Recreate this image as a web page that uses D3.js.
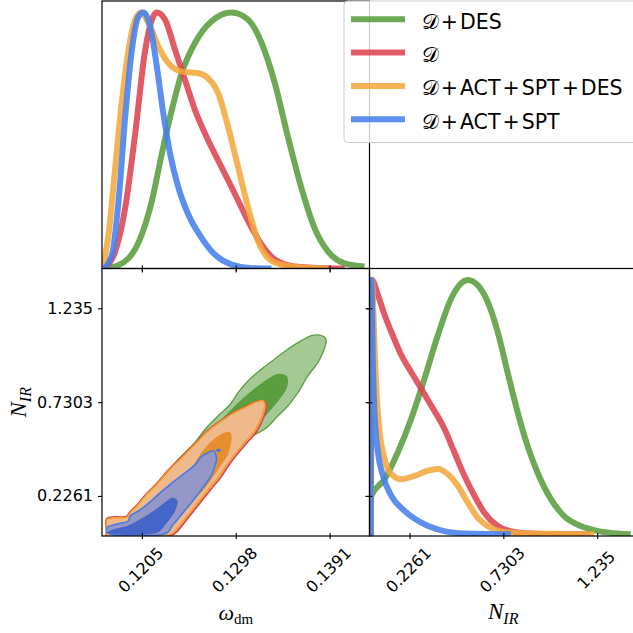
<!DOCTYPE html>
<html lang="en">
<head>
<meta charset="UTF-8">
<title>Triangle plot: omega_dm vs N_IR</title>
<script src="https://d3js.org/d3.v7.min.js"></script>
<style>
  body { margin: 0; background: #fff; }
  .tick-label { font: 16px "DejaVu Sans", sans-serif; fill: #000; }
  .legend-text { font: 20.5px "DejaVu Sans", sans-serif; fill: #000; }
  .math { font-family: "Liberation Serif", "DejaVu Serif", serif; font-style: italic; }
</style>
</head>
<body>
<svg id="chart" width="633" height="633"></svg>
<script>
// series, in legend / drawing order
const seriesNames = ["\u{1D49F}\u200A+\u200ADES", "\u{1D49F}", "\u{1D49F}\u200A+\u200AACT\u200A+\u200ASPT\u200A+\u200ADES", "\u{1D49F}\u200A+\u200AACT\u200A+\u200ASPT"];
const lineColors = ["#5a9e3e", "#dc4451", "#f3a93c", "#4680ee"];

// tick values and labels
const omegaTicks = [0.1205, 0.1298, 0.1391];
const omegaTickLabels = ["0.1205", "0.1298", "0.1391"];
const nirTicks = [0.2261, 0.7303, 1.235];
const nirTickLabels = ["0.2261", "0.7303", "1.235"];

// 1D marginals for omega_dm: [omega, normalised density]
const omegaDes = [[0.11717,0],[0.11918,0.04],[0.12050,0.134],[0.12149,0.264],[0.12248,0.449],[0.12346,0.618],[0.12445,0.764],[0.12577,0.882],[0.12741,0.966],[0.12939,1.0],[0.13103,0.972],[0.13235,0.882],[0.13367,0.724],[0.13498,0.512],[0.13630,0.315],[0.13762,0.157],[0.13893,0.067],[0.14058,0.02],[0.14256,0.008]];
const omegaD = [[0.11671,0],[0.11786,0.067],[0.11885,0.237],[0.11984,0.528],[0.12083,0.854],[0.12149,0.972],[0.12198,1.0],[0.12280,0.972],[0.12379,0.854],[0.12478,0.736],[0.12577,0.618],[0.12708,0.5],[0.12840,0.395],[0.12972,0.291],[0.13103,0.185],[0.13235,0.094],[0.13367,0.035],[0.13564,0.008],[0.13891,0.001],[0.14060,0]];
const omegaAll = [[0.11671,0.016],[0.11720,0.134],[0.11786,0.395],[0.11853,0.657],[0.11918,0.854],[0.11984,0.972],[0.12043,1.0],[0.12115,0.959],[0.12214,0.867],[0.12313,0.802],[0.12445,0.769],[0.12609,0.763],[0.12708,0.743],[0.12807,0.684],[0.12905,0.552],[0.13004,0.395],[0.13103,0.237],[0.13202,0.106],[0.13300,0.041],[0.13433,0.015],[0.13630,0.004],[0.13893,0]];
const omegaActSpt = [[0.11671,0],[0.11754,0.055],[0.11819,0.264],[0.11885,0.592],[0.11951,0.854],[0.12017,0.985],[0.12066,1.0],[0.12132,0.946],[0.12198,0.789],[0.12263,0.605],[0.12330,0.448],[0.12412,0.316],[0.12510,0.211],[0.12643,0.119],[0.12774,0.054],[0.12939,0.015],[0.13137,0.001],[0.13334,0]];

// 1D marginals for N_IR
const nirDes = [[0.0165,0],[0.0207,0.157],[0.092,0.222],[0.163,0.327],[0.235,0.458],[0.3065,0.615],[0.378,0.784],[0.450,0.928],[0.503,0.987],[0.539,1.0],[0.592,0.98],[0.646,0.915],[0.700,0.797],[0.753,0.64],[0.807,0.484],[0.860,0.353],[0.914,0.248],[0.986,0.144],[1.057,0.078],[1.147,0.039],[1.236,0.02],[1.343,0.01],[1.415,0.007]];
const nirD = [[0.018,0],[0.024,1.0],[0.056,0.941],[0.092,0.863],[0.128,0.797],[0.182,0.706],[0.235,0.64],[0.289,0.575],[0.342,0.51],[0.414,0.418],[0.467,0.327],[0.521,0.235],[0.575,0.157],[0.628,0.091],[0.700,0.039],[0.789,0.016],[0.914,0.009],[1.200,0.007]];
const nirAll = [[0.018,0],[0.024,1.0],[0.035,0.797],[0.048,0.562],[0.065,0.405],[0.092,0.301],[0.128,0.242],[0.182,0.222],[0.253,0.235],[0.324,0.255],[0.378,0.262],[0.431,0.242],[0.485,0.196],[0.539,0.131],[0.592,0.072],[0.646,0.039],[0.735,0.016],[0.879,0.009],[1.218,0.007]];
const nirActSpt = [[0.017,0],[0.0207,1.0],[0.029,0.667],[0.038,0.471],[0.056,0.327],[0.083,0.235],[0.128,0.157],[0.199,0.098],[0.289,0.052],[0.396,0.022],[0.521,0.01],[0.771,0.007]];

// 2D contours [omega, N_IR]
const desOuter = [[0.11717,0.0214],[0.11816,0.0537],[0.11934,0.1184],[0.12198,0.2891],[0.12396,0.4146],[0.12560,0.5046],[0.12692,0.5940],[0.12823,0.6662],[0.12922,0.7163],[0.13004,0.7826],[0.13103,0.8456],[0.13235,0.9086],[0.13367,0.9625],[0.13498,1.0164],[0.13631,1.0611],[0.13729,1.0880],[0.13811,1.0907],[0.13861,1.0789],[0.13877,1.0611],[0.13844,0.9981],[0.13795,0.9442],[0.13696,0.8725],[0.13597,0.7826],[0.13498,0.7109],[0.13399,0.6571],[0.13268,0.5854],[0.13120,0.5402],[0.13021,0.4863],[0.12922,0.4146],[0.12823,0.3608],[0.12692,0.2708],[0.12560,0.1814],[0.12428,0.0914],[0.12330,0.0106],[0.11737,0.0106]];
const desInner = [[0.13482,0.8725],[0.13399,0.8833],[0.13301,0.8564],[0.13202,0.8187],[0.13103,0.7756],[0.13001,0.7271],[0.12903,0.6732],[0.12774,0.6032],[0.12675,0.5385],[0.12606,0.4847],[0.12626,0.4416],[0.12725,0.4577],[0.12873,0.4955],[0.13021,0.5332],[0.13186,0.5854],[0.13251,0.6393],[0.13334,0.6932],[0.13416,0.7470],[0.13482,0.8009],[0.13498,0.8456]];
const dOuter = [[0.11700,0.0376],[0.11700,0.1040],[0.11900,0.1180],[0.11930,0.1400],[0.11998,0.1760],[0.12096,0.2390],[0.12195,0.2930],[0.12310,0.3650],[0.12442,0.4360],[0.12574,0.5080],[0.12705,0.5800],[0.12837,0.6330],[0.12936,0.6690],[0.13067,0.7040],[0.13166,0.7300],[0.13251,0.7379],[0.13285,0.7190],[0.13255,0.6460],[0.13189,0.5740],[0.13090,0.5110],[0.12992,0.4480],[0.12893,0.3760],[0.12827,0.3220],[0.12745,0.2680],[0.12613,0.1790],[0.12481,0.0890],[0.12366,0.0200],[0.12251,0.0106],[0.11700,0.0106]];
const allOuter = [[0.11704,0.0376],[0.11704,0.1006],[0.11902,0.1130],[0.11934,0.1361],[0.12001,0.1722],[0.12099,0.2353],[0.12198,0.2891],[0.12313,0.3608],[0.12445,0.4324],[0.12577,0.5046],[0.12708,0.5763],[0.12840,0.6301],[0.12939,0.6662],[0.13070,0.7018],[0.13169,0.7287],[0.13251,0.7379],[0.13268,0.7201],[0.13235,0.6479],[0.13169,0.5763],[0.13070,0.5132],[0.12972,0.4507],[0.12873,0.3786],[0.12807,0.3247],[0.12725,0.2708],[0.12593,0.1814],[0.12461,0.0914],[0.12346,0.0214],[0.12231,0.0106],[0.11704,0.0106]];
const allInner = [[0.12922,0.5671],[0.12939,0.5402],[0.12905,0.4507],[0.12840,0.3969],[0.12774,0.3430],[0.12675,0.2692],[0.12527,0.1830],[0.12379,0.1022],[0.12280,0.0376],[0.12000,0.0322],[0.12033,0.0483],[0.12231,0.1615],[0.12379,0.2530],[0.12507,0.3446],[0.12606,0.4308],[0.12685,0.4901],[0.12774,0.5359],[0.12863,0.5655]];
const actSptOuter = [[0.11707,0.0284],[0.11707,0.0564],[0.11806,0.0753],[0.11915,0.0914],[0.11934,0.1184],[0.12033,0.1507],[0.12132,0.1938],[0.12231,0.2423],[0.12349,0.2961],[0.12478,0.3500],[0.12586,0.3985],[0.12636,0.4362],[0.12708,0.4594],[0.12757,0.4685],[0.12789,0.4308],[0.12774,0.3877],[0.12740,0.3392],[0.12675,0.2854],[0.12577,0.2153],[0.12448,0.1291],[0.12349,0.0645],[0.12300,0.0284]];
const actSptInner = [[0.11707,0.0284],[0.11769,0.0467],[0.11902,0.0645],[0.12033,0.1006],[0.12165,0.1453],[0.12297,0.1992],[0.12362,0.2169],[0.12402,0.1992],[0.12379,0.1453],[0.12297,0.0823],[0.12201,0.0284]];
const actSptIsland = [[0.12789,0.4712],[0.12809,0.4777],[0.12828,0.4728],[0.12809,0.4658]];

const svg = d3.select("#chart");

// panel geometry
const S = 267.5, L = 102, T = 1;
const c0 = L, c1 = L + S, r0 = T, r1 = T + S;

// scales
const xOmega = d3.scaleLinear().domain([0.11655, 0.14305]).range([c0, c1]);
const nDomain = [0.0106, 1.449];
const yN = d3.scaleLinear().domain(nDomain).range([r1 + S, r1]);
const xN = d3.scaleLinear().domain(nDomain).range([c1, c1 + S]);
const yTop = d3.scaleLinear().domain([0, 1.045]).range([r1, r0]);
const yBR = d3.scaleLinear().domain([0, 1.045]).range([r1 + S, r1]);

const defs = svg.append("defs");
function clip(id, x, y) {
  defs.append("clipPath").attr("id", id).append("rect")
    .attr("x", x).attr("y", y).attr("width", S).attr("height", S);
}
clip("cTL", c0, r0);
clip("cBL", c0, r1);
clip("cBR", c1, r1);

// ---- 2D panel contours
const poly = d3.line().x(d => xOmega(d[0])).y(d => yN(d[1])).curve(d3.curveCatmullRomClosed.alpha(0.5));
const g2 = svg.append("g").attr("clip-path", "url(#cBL)");
function contour(data, fill, stroke, sw) {
  g2.append("path").datum(data).attr("d", poly)
    .attr("fill", fill).attr("stroke", stroke || "none").attr("stroke-width", sw || 0)
    .attr("stroke-linejoin", "round");
}
contour(desOuter, "#a5c995", "#5a9e3e", 1.3);
contour(desInner, "#5b9e3f");
contour(dOuter, "#eaa3a6", "#d9404e", 1.5);
contour(allOuter, "#efb98c", "#f39a22", 1.5);
contour(allInner, "#e68f2e");
contour(actSptOuter, "#9597c6", "#4479ea", 1.6);
contour(actSptInner, "#4565c9");
contour(actSptIsland, "#4565c9", "#4479ea", 1.2);

// ---- 1D marginals
const lineTL = d3.line().x(d => xOmega(d[0])).y(d => yTop(d[1])).curve(d3.curveMonotoneX);
const lineBR = d3.line().x(d => xN(d[0])).y(d => yBR(d[1])).curve(d3.curveMonotoneX);
const omegaSeries = [omegaDes, omegaD, omegaAll, omegaActSpt];
const nirSeries = [nirDes, nirD, nirAll, nirActSpt];
const gTL = svg.append("g").attr("clip-path", "url(#cTL)");
const gBR = svg.append("g").attr("clip-path", "url(#cBR)");
omegaSeries.forEach((s, i) => {
  gTL.append("path").datum(s).attr("d", lineTL).attr("fill", "none")
    .attr("stroke", lineColors[i]).attr("stroke-width", 6).attr("stroke-opacity", 0.88)
    .attr("stroke-linejoin", "round");
});
nirSeries.forEach((s, i) => {
  gBR.append("path").datum(s).attr("d", lineBR).attr("fill", "none")
    .attr("stroke", lineColors[i]).attr("stroke-width", 6).attr("stroke-opacity", 0.88)
    .attr("stroke-linejoin", "round");
});

// ---- frames and ticks
function frame(x, y) {
  svg.append("rect").attr("x", x).attr("y", y).attr("width", S).attr("height", S)
    .attr("fill", "none").attr("stroke", "#000").attr("stroke-width", 1.2);
}
frame(c0, r0); frame(c0, r1); frame(c1, r1);

function ticks(axisFn, scale, vals, tx, ty, size) {
  svg.append("g").attr("transform", `translate(${tx},${ty})`)
    .call(axisFn(scale).tickValues(vals).tickSize(size).tickFormat(""))
    .call(g => g.select(".domain").remove())
    .call(g => g.selectAll("line").attr("stroke", "#000").attr("stroke-width", 1.1));
}
// top-left: bottom ticks
ticks(d3.axisBottom, xOmega, omegaTicks, 0, r1, 3);
ticks(d3.axisTop, xOmega, omegaTicks, 0, r1, 3);
// bottom-left: all sides
ticks(d3.axisBottom, xOmega, omegaTicks, 0, r1 + S, 3);
ticks(d3.axisTop, xOmega, omegaTicks, 0, r1 + S, 3);
ticks(d3.axisLeft, yN, nirTicks, c0, 0, 4);
ticks(d3.axisBottom, xOmega, omegaTicks, 0, r1, 4);
ticks(d3.axisLeft, yN, nirTicks, c1, 0, 4);
// bottom-right
ticks(d3.axisBottom, xN, nirTicks, 0, r1 + S, 3);
ticks(d3.axisTop, xN, nirTicks, 0, r1 + S, 3);
ticks(d3.axisLeft, yN, nirTicks, c1, 0, 3);
ticks(d3.axisRight, yN, nirTicks, c1, 0, 3);

// tick labels
omegaTicks.forEach((v, i) => {
  svg.append("text").attr("class", "tick-label")
    .attr("transform", `translate(${xOmega(v) - 1},${r1 + S + 34}) rotate(-45)`)
    .attr("text-anchor", "middle").attr("dominant-baseline", "central")
    .text(omegaTickLabels[i]);
});
nirTicks.forEach((v, i) => {
  svg.append("text").attr("class", "tick-label")
    .attr("transform", `translate(${xN(v) - 1},${r1 + S + 34}) rotate(-45)`)
    .attr("text-anchor", "middle").attr("dominant-baseline", "central")
    .text(nirTickLabels[i]);
  svg.append("text").attr("class", "tick-label")
    .attr("x", c0 - 9).attr("y", yN(v)).attr("text-anchor", "end")
    .attr("dominant-baseline", "central")
    .text(nirTickLabels[i]);
});

// axis labels
const xl = svg.append("text").attr("x", (c0 + c1) / 2).attr("y", 620)
  .attr("text-anchor", "middle");
xl.append("tspan").attr("class", "math").attr("font-size", 22).text("ω");
xl.append("tspan").attr("font-family", "Liberation Serif, serif").attr("font-size", 15).attr("dy", 4).text("dm");

const xl2 = svg.append("text").attr("x", c1 + S / 2).attr("y", 619).attr("text-anchor", "middle");
xl2.append("tspan").attr("class", "math").attr("font-size", 23).text("N");
xl2.append("tspan").attr("class", "math").attr("font-size", 16).attr("dy", 5).text("IR");

const yl = svg.append("text").attr("transform", `translate(26,${r1 + S / 2}) rotate(-90)`)
  .attr("text-anchor", "middle");
yl.append("tspan").attr("class", "math").attr("font-size", 23).text("N");
yl.append("tspan").attr("class", "math").attr("font-size", 16).attr("dy", 5).text("IR");

// ---- legend
const lg = svg.append("g").attr("transform", "translate(344,1)");
lg.append("rect").attr("width", 300).attr("height", 141.5).attr("rx", 4)
  .attr("fill", "#fff").attr("fill-opacity", 0.8).attr("stroke", "#ccc").attr("stroke-width", 1);
seriesNames.forEach((name, i) => {
  const yy = 18.3 + i * 33.3;
  lg.append("line").attr("x1", 7).attr("x2", 61).attr("y1", yy).attr("y2", yy)
    .attr("stroke", lineColors[i]).attr("stroke-width", 6).attr("stroke-opacity", 0.88);
  lg.append("text").attr("class", "legend-text").attr("x", 77.7).attr("y", yy + 9.5).text(name);
});
</script>
</body>
</html>
